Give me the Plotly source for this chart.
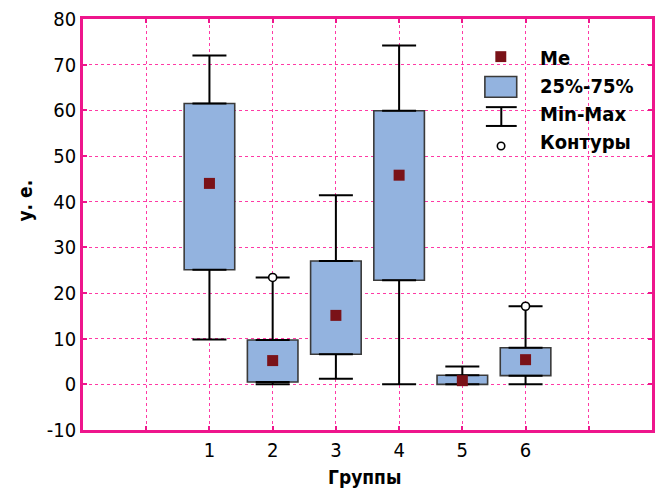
import plotly.graph_objects as go

# ---- data ----
groups = [1, 2, 3, 4, 5, 6]
mins = [9.8, 0.0, 1.2, 0.0, 0.0, 0.0]
q1 = [25.1, 0.5, 6.6, 22.8, 0.0, 1.9]
medians = [44.0, 5.2, 15.1, 45.8, 0.8, 5.4]
q3 = [61.5, 9.7, 27.0, 59.9, 2.0, 8.0]
maxs = [72.0, 23.4, 41.4, 74.2, 3.9, 17.1]
outlier_groups = [2, 6]
outlier_values = [23.4, 17.1]
x_tickvals = [0, 1, 2, 3, 4, 5, 6, 7]
x_ticktext = ["", "1", "2", "3", "4", "5", "6", ""]
y_tickvals = [-10, 0, 10, 20, 30, 40, 50, 60, 70, 80]
y_ticktext = ["-10", "0", "10", "20", "30", "40", "50", "60", "70", "80"]
legend_labels = ["Me", "25%-75%", "Min-Max", "Контуры"]

FONT = "DejaVu Sans Condensed, Liberation Sans, Arial, sans-serif"
MAG = "#EE168C"
GRID = "#FF3AA5"
BOXFILL = "#93B3DF"
BOXLINE = "#3A3A3A"
MED = "#7A1218"

fig = go.Figure()

fig.add_trace(go.Bar(
    x=groups, y=[b - a for a, b in zip(q1, q3)], base=q1, width=0.8,
    marker=dict(color=BOXFILL, line=dict(color=BOXLINE, width=1.6)),
    showlegend=False, hoverinfo="skip"))

# upper whiskers
fig.add_trace(go.Scatter(
    x=groups, y=q3, mode="markers",
    marker=dict(size=1, color="rgba(0,0,0,0)"),
    error_y=dict(type="data", symmetric=False,
                 array=[b - a for a, b in zip(q3, maxs)],
                 arrayminus=[0] * len(groups),
                 width=17, thickness=2, color="black"),
    showlegend=False, hoverinfo="skip"))
# lower whiskers
fig.add_trace(go.Scatter(
    x=groups, y=q1, mode="markers",
    marker=dict(size=1, color="rgba(0,0,0,0)"),
    error_y=dict(type="data", symmetric=False,
                 array=[0] * len(groups),
                 arrayminus=[a - b for a, b in zip(q1, mins)],
                 width=17, thickness=2, color="black"),
    showlegend=False, hoverinfo="skip"))

# medians
fig.add_trace(go.Scatter(
    x=groups, y=medians, mode="markers",
    marker=dict(symbol="square", size=11, color=MED),
    showlegend=False))

# outliers / contours
fig.add_trace(go.Scatter(
    x=outlier_groups, y=outlier_values, mode="markers",
    marker=dict(symbol="circle", size=8, color="white",
                line=dict(color="black", width=1.6)),
    showlegend=False))

# ---- manual legend (pixel -> paper fraction) ----
L, R, T, B = 83, 655, 15, 430
def px(x):
    return (x - L) / (R - L)
def py(y):
    return (B - y) / (B - T)

shapes = [
    dict(type="rect", xref="paper", yref="paper", x0=px(497.5), x1=px(508.5),
         y0=py(58.5), y1=py(47.5), fillcolor=MED, line=dict(width=0)),
    dict(type="rect", xref="paper", yref="paper", x0=px(487), x1=px(519),
         y0=py(94), y1=py(73), fillcolor=BOXFILL, line=dict(color=BOXLINE, width=1.6)),
    dict(type="line", xref="paper", yref="paper", x0=px(488), x1=px(519),
         y0=py(104), y1=py(104), line=dict(color="black", width=2)),
    dict(type="line", xref="paper", yref="paper", x0=px(488), x1=px(519),
         y0=py(123), y1=py(123), line=dict(color="black", width=2)),
    dict(type="line", xref="paper", yref="paper", x0=px(503.5), x1=px(503.5),
         y0=py(104), y1=py(123), line=dict(color="black", width=2)),
    dict(type="circle", xref="paper", yref="paper", x0=px(499.5), x1=px(507),
         y0=py(147), y1=py(139.5), fillcolor="white", line=dict(color="black", width=1.6)),
]
annotations = []
for lab, yy in zip(legend_labels, [54, 83, 111, 139]):
    annotations.append(dict(text="<b>%s</b>" % lab, xref="paper", yref="paper",
                            x=px(540), y=py(yy), xanchor="left", yanchor="middle",
                            showarrow=False, font=dict(family=FONT, size=20, color="black")))
annotations.append(dict(text="<b>у. е.</b>", xref="paper", yref="paper",
                        x=px(25), y=py(198), textangle=-90, xanchor="center", yanchor="middle",
                        showarrow=False, font=dict(family=FONT, size=19, color="black")))
annotations.append(dict(text="<b>Группы</b>", xref="paper", yref="paper",
                        x=px(366), y=py(477), xanchor="center", yanchor="middle",
                        showarrow=False, font=dict(family=FONT, size=19, color="black")))

axis_common = dict(
    showline=True, linecolor=MAG, linewidth=2.5, mirror="all",
    ticks="inside", ticklen=4, tickwidth=2, tickcolor=MAG,
    showgrid=True, gridcolor=GRID, gridwidth=1, griddash="dot",
    zeroline=False, tickfont=dict(family=FONT, size=20, color="black"),
)

W, H = 662, 495
fig.update_layout(
    width=W, height=H,
    margin=dict(l=L, r=W - R, t=T, b=H - B),
    paper_bgcolor="white", plot_bgcolor="white",
    xaxis=dict(range=[-1, 8], tickvals=x_tickvals, ticktext=x_ticktext, **axis_common),
    yaxis=dict(range=[-10, 80], tickvals=y_tickvals, ticktext=y_ticktext, **axis_common),
    shapes=shapes, annotations=annotations,
    showlegend=False,
)

fig.write_html("out.html",
               config={"displayModeBar": False},
               post_script="document.body.style.margin='0';document.body.style.overflow='hidden';")
